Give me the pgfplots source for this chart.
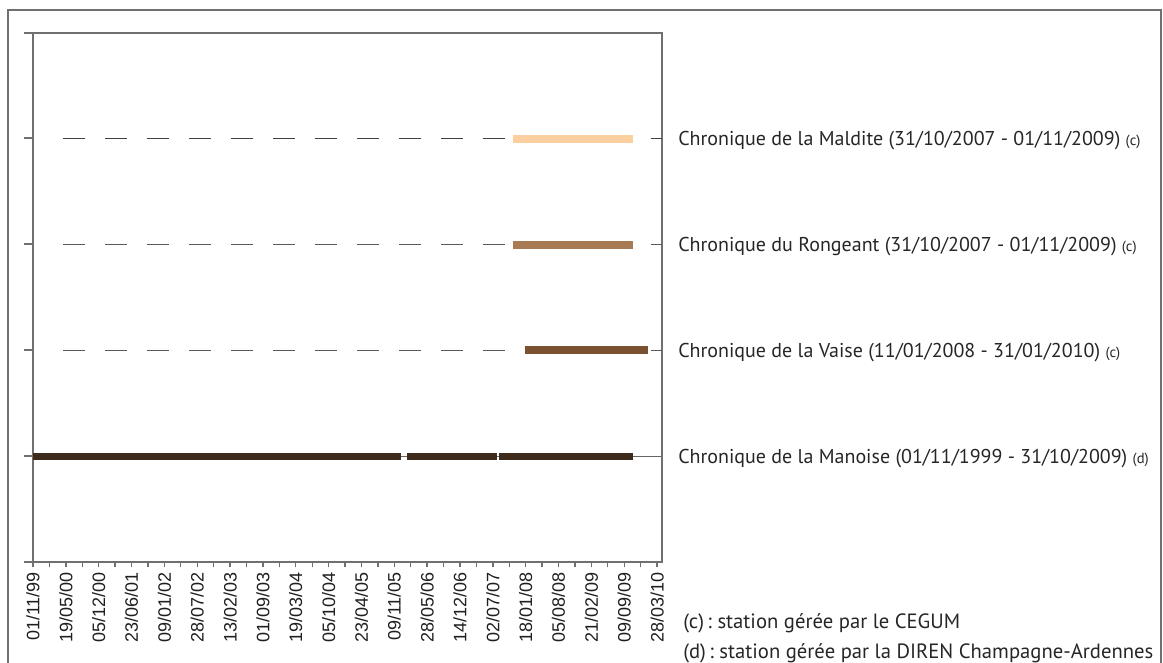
\documentclass[border=0pt]{standalone}
\usepackage{pgfplots}
\pgfplotsset{compat=1.18}
\usepackage{fontspec}
\setmainfont{PT Sans}
\newfontfamily\tickfont{Liberation Sans}

\definecolor{axisgray}{HTML}{707070}
\definecolor{cMaldite}{HTML}{FBCF9F}
\definecolor{cRongeant}{HTML}{A87B55}
\definecolor{cVaise}{HTML}{7A5131}
\definecolor{cManoise}{HTML}{3E2B1C}

% days counted from 01/11/1999
\begin{document}
\begin{tikzpicture}
\useasboundingbox (0pt,0pt) rectangle (872.25pt,-496.5pt);
\begin{scope}[x=0.75pt,y=-0.75pt]
\draw[axisgray, line width=1.1pt] (8,10) rectangle (1161,720);
% short outer ticks on the left
\foreach \yy in {33,138,244,350,456,562}
  \draw[axisgray, line width=1.1pt] (24,\yy) -- (33,\yy);
\end{scope}

\begin{axis}[
  at={(24.75pt,-421.5pt)}, anchor=south west,
  scale only axis, width=471.75pt, height=396.75pt,
  xmin=0, xmax=3830, ymin=0, ymax=5,
  axis line style={axisgray, line width=1.1pt},
  ytick=\empty,
  xtick={0,200,...,3800},
  minor x tick num=1,
  xtick pos=bottom,
  tick align=outside,
  major tick length=4pt, minor tick length=4pt,
  every tick/.style={axisgray, line width=1pt},
  xticklabels={01/11/99,19/05/00,05/12/00,23/06/01,09/01/02,28/07/02,13/02/03,01/09/03,19/03/04,05/10/04,23/04/05,09/11/05,28/05/06,14/12/06,02/07/07,18/01/08,05/08/08,21/02/09,09/09/09,28/03/10},
  x tick label style={rotate=90, anchor=east, text=black!88,
    font=\tickfont\fontsize{13.5}{15}\selectfont},
]
% guide lines
\addplot[black!75, line width=0.9pt, dash pattern=on 16.5pt off 15pt] coordinates {(183,4) (3830,4)};
\addplot[black!65, line width=0.9pt, dash pattern=on 16.5pt off 15pt] coordinates {(183,3) (3830,3)};
\addplot[black!65, line width=0.9pt, dash pattern=on 16.5pt off 15pt] coordinates {(183,2) (3830,2)};
\addplot[black!60, line width=0.9pt] coordinates {(0,1) (3830,1)};

% Maldite
\addplot[cMaldite, line width=6pt] coordinates {(2921,4) (3653,4)};
% Rongeant
\addplot[cRongeant, line width=6pt] coordinates {(2921,3) (3653,3)};
% Vaise
\addplot[cVaise, line width=6pt] coordinates {(2993,2) (3744,2)};
% Manoise
\addplot[cManoise, line width=5.5pt] coordinates {(0,1) (2238,1)};
\addplot[cManoise, line width=5.5pt] coordinates {(2278,1) (2824,1)};
\addplot[cManoise, line width=5.5pt] coordinates {(2840,1) (3652,1)};
\end{axis}

\begin{scope}[x=0.75pt,y=-0.75pt, every node/.style={inner sep=0pt, text=black!85, font=\fontsize{15}{17}\selectfont}]
\node[anchor=base west] at (678,145) {Chronique de la Maldite (31/10/2007 - 01/11/2009) {\fontsize{11}{12}\selectfont(c)}};
\node[anchor=base west] at (678,251) {Chronique du Rongeant (31/10/2007 - 01/11/2009) {\fontsize{11}{12}\selectfont(c)}};
\node[anchor=base west] at (678,357) {Chronique de la Vaise (11/01/2008 - 31/01/2010) {\fontsize{11}{12}\selectfont(c)}};
\node[anchor=base west] at (678,463) {Chronique de la Manoise (01/11/1999 - 31/10/2009) {\fontsize{11}{12}\selectfont(d)}};
\node[anchor=base west, font=\fontsize{15.5}{17}\selectfont] at (683,628) {(c)\,:\ station gérée par le CEGUM};
\node[anchor=base west, font=\fontsize{15.5}{17}\selectfont] at (683,658) {(d)\,:\ station gérée par la DIREN Champagne-Ardennes};
\end{scope}
\end{tikzpicture}
\end{document}
